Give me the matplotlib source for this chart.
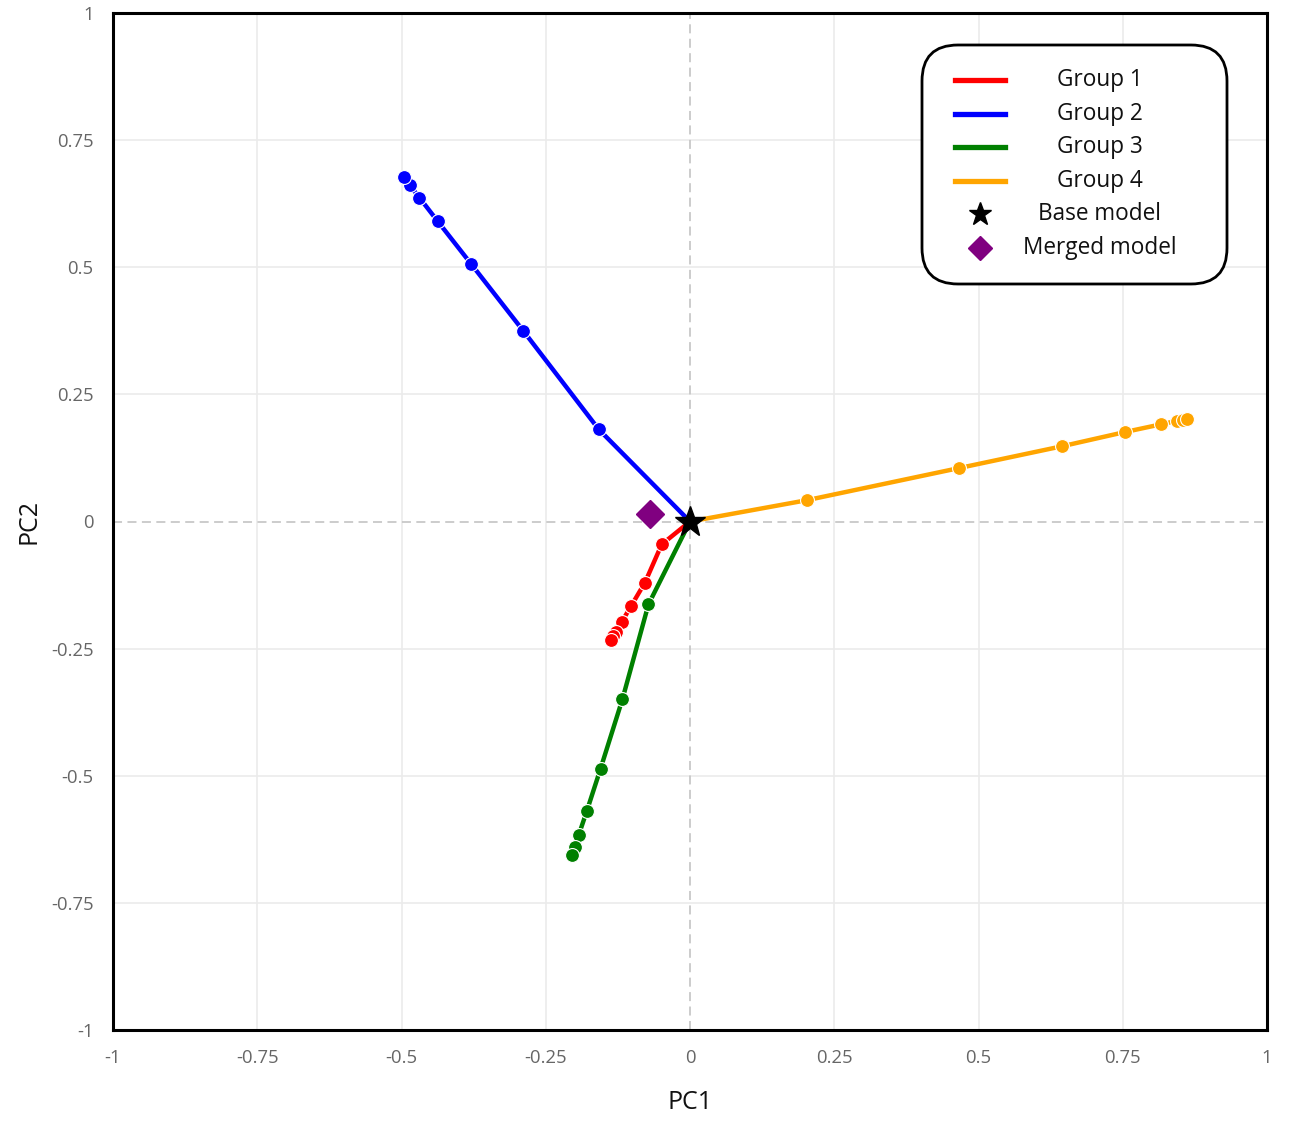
import matplotlib
matplotlib.use("Agg")
import matplotlib.pyplot as plt
from matplotlib.patches import FancyBboxPatch
from matplotlib.lines import Line2D

plt.rcParams['font.family'] = ['Open Sans', 'DejaVu Sans']

# ---- data ----
base_x, base_y = 0.0, 0.0
merged_x, merged_y = -0.070, 0.015

group1_x = [-0.049, -0.078, -0.102, -0.118, -0.128, -0.133, -0.137]
group1_y = [-0.045, -0.120, -0.166, -0.197, -0.217, -0.225, -0.233]

group2_x = [-0.158, -0.289, -0.379, -0.437, -0.469, -0.486, -0.495]
group2_y = [0.181, 0.375, 0.506, 0.590, 0.637, 0.662, 0.678]

group3_x = [-0.072, -0.117, -0.155, -0.179, -0.193, -0.200, -0.204]
group3_y = [-0.163, -0.349, -0.486, -0.570, -0.617, -0.641, -0.655]

group4_x = [0.203, 0.466, 0.645, 0.754, 0.816, 0.844, 0.854, 0.862]
group4_y = [0.042, 0.105, 0.148, 0.176, 0.191, 0.198, 0.200, 0.201]

group_labels = ["Group 1", "Group 2", "Group 3", "Group 4"]
group_colors = ["#ff0000", "#0000ff", "#008000", "#ffa500"]
groups = [(group1_x, group1_y), (group2_x, group2_y),
          (group3_x, group3_y), (group4_x, group4_y)]

ticks = [-1, -0.75, -0.5, -0.25, 0, 0.25, 0.5, 0.75, 1]
tick_labels = ["-1", "-0.75", "-0.5", "-0.25", "0", "0.25", "0.5", "0.75", "1"]

# ---- figure ----
fig = plt.figure(figsize=(13, 11.38), dpi=100)
ax = fig.add_axes([113/1300, 1 - 1030/1138, (1267-113)/1300, (1030-13)/1138])

ax.set_xlim(-1, 1)
ax.set_ylim(-1, 1)

# grid
for t in ticks[1:-1]:
    if t == 0:
        continue
    ax.axvline(t, color="#ebebeb", lw=1.2, zorder=0)
    ax.axhline(t, color="#ebebeb", lw=1.2, zorder=0)
ax.axvline(0, color="#c8c8c8", lw=1.3, ls=(0, (5, 3)), zorder=0.5)
ax.axhline(0, color="#c8c8c8", lw=1.3, ls=(0, (5, 3)), zorder=0.5)

for (gx, gy), c in zip(groups, group_colors):
    ax.plot([base_x] + gx, [base_y] + gy, color=c, lw=3.2, zorder=2,
            solid_capstyle="round")
    ax.plot(gx, gy, ls="none", marker="o", ms=10, mfc=c, mec="white",
            mew=0.8, zorder=3)

ax.plot([merged_x], [merged_y], ls="none", marker="D", ms=14.5, color="#800080",
        zorder=4)
ax.plot([base_x], [base_y], ls="none", marker="*", ms=23, color="black",
        zorder=5)

ax.set_xticks(ticks)
ax.set_xticklabels(tick_labels)
ax.set_yticks(ticks)
ax.set_yticklabels(tick_labels)
ax.tick_params(length=0, labelsize=13.3, labelcolor="#666666", pad=14)
for s in ax.spines.values():
    s.set_linewidth(2.2)
    s.set_color("black")

ax.set_xlabel("PC1", fontsize=18, color="#111111", labelpad=16)
ax.set_ylabel("PC2", fontsize=18, color="#111111", labelpad=7)

# ---- legend (manual, centered labels) ----
tr = fig.dpi_scale_trans
box = FancyBboxPatch((9.22, 11.38 - 2.84), 12.27 - 9.22, 2.84 - 0.45,
                     boxstyle="round,pad=0,rounding_size=0.36",
                     transform=tr, fc="white", ec="black", lw=2.0,
                     zorder=10)
fig.add_artist(box)
row_y = [0.80, 1.14, 1.475, 1.81, 2.145, 2.48]
hx0, hx1, hxc, tx = 9.55, 10.05, 9.80, 11.0
entries = list(zip(group_labels, group_colors))
for i, (lab, c) in enumerate(entries):
    yy = 11.38 - row_y[i]
    fig.add_artist(Line2D([hx0, hx1], [yy, yy], transform=tr, color=c,
                          lw=3.8, zorder=11))
    fig.text(tx, yy, lab, transform=tr, ha="center", va="center",
             fontsize=16.3, color="#111111", zorder=11)
yy = 11.38 - row_y[4]
fig.add_artist(Line2D([hxc], [yy], transform=tr, ls="none", marker="*",
                      ms=17, color="black", zorder=11))
fig.text(tx, yy, "Base model", transform=tr, ha="center", va="center",
         fontsize=16.3, color="#111111", zorder=11)
yy = 11.38 - row_y[5]
fig.add_artist(Line2D([hxc], [yy], transform=tr, ls="none", marker="D",
                      ms=12, color="#800080", zorder=11))
fig.text(tx, yy, "Merged model", transform=tr, ha="center", va="center",
         fontsize=16.3, color="#111111", zorder=11)

fig.savefig("out.png", dpi=100)
